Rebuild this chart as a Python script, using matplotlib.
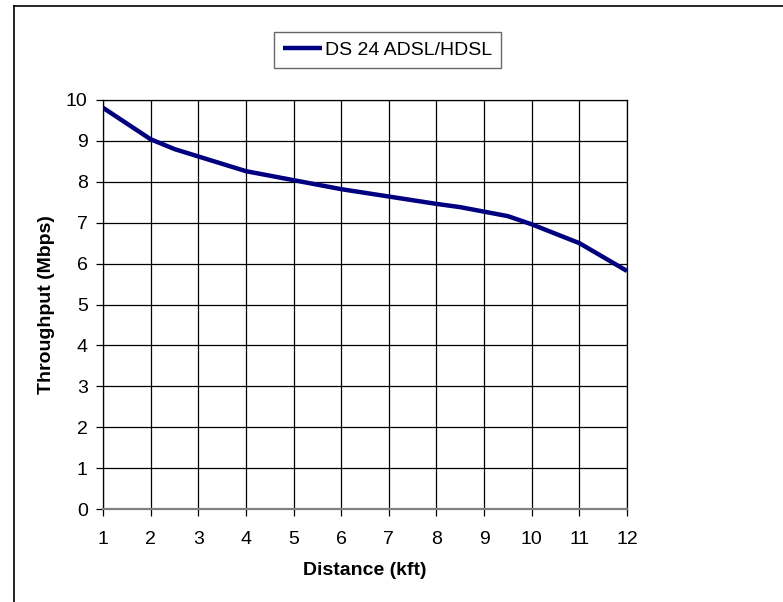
import matplotlib
matplotlib.use("Agg")
import matplotlib.pyplot as plt
from matplotlib.lines import Line2D

plt.rcParams['font.family'] = ['Liberation Sans', 'DejaVu Sans']

distance = [1, 2, 2.5, 3, 4, 5, 6, 7, 8, 8.5, 9, 9.5, 10, 11, 12]
throughput = [9.81, 9.04, 8.8, 8.62, 8.26, 8.04, 7.82, 7.64, 7.46, 7.38,
              7.27, 7.16, 6.96, 6.5, 5.82]
series_name = "DS 24 ADSL/HDSL"
x_ticks = list(range(1, 13))
y_ticks = list(range(0, 11))


def main():
    fig = plt.figure(figsize=(7.83, 6.02), dpi=100)
    ax = fig.add_axes([103 / 783, 1 - 509 / 602, 524 / 783, 409 / 602])

    ax.plot(distance, throughput, color='#000080', lw=3.2,
            solid_capstyle='butt', label=series_name, zorder=3)

    ax.set_xlim(1, 12)
    ax.set_ylim(0, 10)
    ax.set_xticks(x_ticks)
    ax.set_yticks(y_ticks)
    ax.grid(True, color='black', lw=0.9)
    ax.set_axisbelow(True)
    for side in ['top', 'right', 'left']:
        ax.spines[side].set_color('black')
        ax.spines[side].set_linewidth(0.9)
    ax.spines['bottom'].set_color('#808080')
    ax.spines['bottom'].set_linewidth(1.6)
    ax.tick_params(axis='both', direction='out', length=5, width=0.9,
                   labelsize=14, colors='black')
    ax.tick_params(axis='x', pad=11)
    ax.tick_params(axis='y', pad=6)

    ax.set_xlabel("Distance (kft)", fontsize=14, fontweight='bold', labelpad=10)
    ax.set_ylabel("Throughput (Mbps)", fontsize=14, fontweight='bold', labelpad=8)

    leg = ax.legend(loc='center', bbox_to_anchor=(387.5 / 783, 1 - 50 / 602),
                    bbox_transform=fig.transFigure, frameon=True, fancybox=False,
                    fontsize=14, handlelength=2.0, handletextpad=0.15,
                    borderpad=0.45, borderaxespad=0)
    leg.get_frame().set_edgecolor('#404040')
    leg.get_frame().set_linewidth(1.0)

    # outer chart border (runs off the right and bottom edges)
    fig.add_artist(Line2D([14 / 783, 14 / 783], [0, 1 - 6 / 602],
                          transform=fig.transFigure, color='black', lw=1.2))
    fig.add_artist(Line2D([14 / 783, 1], [1 - 6 / 602, 1 - 6 / 602],
                          transform=fig.transFigure, color='black', lw=1.2))

    fig.savefig("out.png", dpi=100)


if __name__ == "__main__":
    main()
